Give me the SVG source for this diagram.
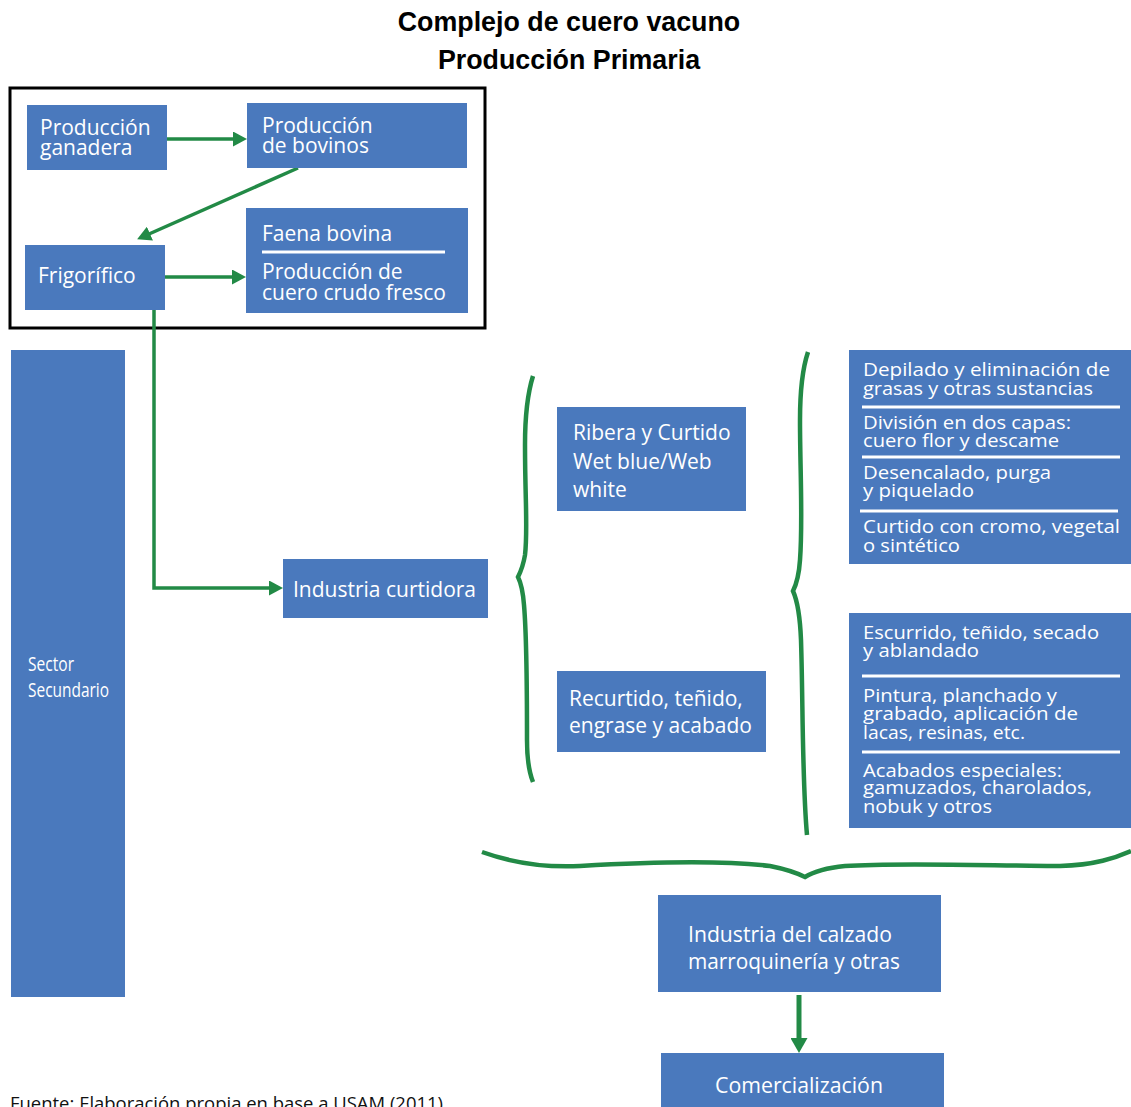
<svg xmlns="http://www.w3.org/2000/svg" width="1131" height="1107" viewBox="0 0 1131 1107">
<style>
.box{fill:#4a79bd}
.t{font-family:"Open Sans","Noto Sans","DejaVu Sans",sans-serif;font-size:21px;fill:#ffffff}
.s{font-family:"Open Sans","Noto Sans","DejaVu Sans",sans-serif;font-size:18.5px;fill:#ffffff}
.title{font-family:"Liberation Sans",Arial,sans-serif;font-size:26.8px;font-weight:bold;fill:#000000;text-anchor:middle}
.sep{stroke:#ffffff;stroke-width:3}
.conn{stroke:#228a46;stroke-width:3.5;fill:none}
.brace{stroke:#228a46;stroke-width:4.5;fill:none;stroke-linecap:butt}
</style>
<defs>
<marker id="ah" markerUnits="userSpaceOnUse" markerWidth="14" markerHeight="15" viewBox="0 0 14 15" refX="1" refY="7.5" orient="auto">
<path d="M0,0 L14,7.5 L0,15 z" fill="#228a46"/>
</marker>
<marker id="ahb" markerUnits="userSpaceOnUse" markerWidth="15" markerHeight="17" viewBox="0 0 15 17" refX="1" refY="8.5" orient="auto">
<path d="M0,0 L15,8.5 L0,17 z" fill="#228a46"/>
</marker>
</defs>
<rect width="1131" height="1107" fill="#ffffff"/>

<g id="title">
<text class="title" x="569" y="31">Complejo de cuero vacuno</text>
<text class="title" x="569" y="69">Producción Primaria</text>
</g>

<g id="primaria-frame">
<rect x="10" y="88" width="475" height="240" fill="none" stroke="#000000" stroke-width="3"/>
</g>

<g id="connectors">
<line class="conn" x1="167" y1="139" x2="234" y2="139" marker-end="url(#ah)"/>
<line class="conn" x1="298" y1="168" x2="149" y2="234" marker-end="url(#ah)"/>
<line class="conn" x1="165" y1="277" x2="233" y2="277" marker-end="url(#ah)"/>
<polyline class="conn" points="154,310 154,588 270,588" marker-end="url(#ah)"/>
<line class="conn" style="stroke-width:5" x1="799" y1="995" x2="799" y2="1039" marker-end="url(#ahb)"/>
</g>

<g id="braces">
<path class="brace" d="M533,376 C528,392 525,415 525,445 C525,500 528,530 525,555 C523,567 520,573 518,577 C521,583 523,592 524,605 C527,640 527,700 527,740 C527,760 529,772 533,782"/>
<path class="brace" d="M808,352 C802,370 800,390 800,420 C800,470 803,520 800,560 C799,575 796,585 793,591 C797,600 800,615 801,640 C803,700 802,780 807,835"/>
<path class="brace" d="M482,852 C510,862 540,868 580,866 C650,862 720,860 770,866 C785,869 797,873 805,877 C813,872 825,868 845,866 C900,862 1000,866 1060,866 C1095,865 1115,858 1131,851"/>
</g>

<g id="produccion-ganadera">
<rect class="box" x="27" y="105" width="140" height="65"/>
<text class="t" x="40" y="135">Producción</text>
<text class="t" x="40" y="155">ganadera</text>
</g>

<g id="produccion-bovinos">
<rect class="box" x="247" y="103" width="220" height="65"/>
<text class="t" x="262" y="133">Producción</text>
<text class="t" x="262" y="153">de bovinos</text>
</g>

<g id="frigorifico">
<rect class="box" x="25" y="245" width="140" height="65"/>
<text class="t" x="38" y="283">Frigorífico</text>
</g>

<g id="faena">
<rect class="box" x="246" y="208" width="222" height="105"/>
<text class="t" x="262" y="241">Faena bovina</text>
<line class="sep" x1="262" y1="252" x2="445" y2="252"/>
<text class="t" x="262" y="279">Producción de</text>
<text class="t" x="262" y="300">cuero crudo fresco</text>
</g>

<g id="sector-secundario">
<rect class="box" x="11" y="350" width="114" height="647"/>
<text class="t" style="font-size:20px" x="28" y="671" textLength="46" lengthAdjust="spacingAndGlyphs">Sector</text>
<text class="t" style="font-size:20px" x="28" y="697" textLength="81" lengthAdjust="spacingAndGlyphs">Secundario</text>
</g>

<g id="industria-curtidora">
<rect class="box" x="283" y="559" width="205" height="59"/>
<text class="t" x="293" y="597">Industria curtidora</text>
</g>

<g id="ribera">
<rect class="box" x="557" y="407" width="189" height="104"/>
<text class="t" x="573" y="440">Ribera y Curtido</text>
<text class="t" x="573" y="469">Wet blue/Web</text>
<text class="t" x="573" y="497">white</text>
</g>

<g id="recurtido">
<rect class="box" x="557" y="671" width="209" height="81"/>
<text class="t" x="569" y="706">Recurtido, teñido,</text>
<text class="t" x="569" y="733">engrase y acabado</text>
</g>

<g id="procesos-ribera">
<rect class="box" x="849" y="350" width="282" height="214"/>
<text class="s" x="863" y="376" textLength="247" lengthAdjust="spacingAndGlyphs">Depilado y eliminación de</text>
<text class="s" x="863" y="395" textLength="230" lengthAdjust="spacingAndGlyphs">grasas y otras sustancias</text>
<line class="sep" x1="862" y1="407" x2="1120" y2="407"/>
<text class="s" x="863" y="429" textLength="208" lengthAdjust="spacingAndGlyphs">División en dos capas:</text>
<text class="s" x="863" y="447" textLength="196" lengthAdjust="spacingAndGlyphs">cuero flor y descame</text>
<line class="sep" x1="862" y1="457" x2="1120" y2="457"/>
<text class="s" x="863" y="479" textLength="188" lengthAdjust="spacingAndGlyphs">Desencalado, purga</text>
<text class="s" x="863" y="497" textLength="111" lengthAdjust="spacingAndGlyphs">y piquelado</text>
<line class="sep" x1="860" y1="511" x2="1118" y2="511"/>
<text class="s" x="863" y="533" textLength="257" lengthAdjust="spacingAndGlyphs">Curtido con cromo, vegetal</text>
<text class="s" x="863" y="552" textLength="97" lengthAdjust="spacingAndGlyphs">o sintético</text>
</g>

<g id="procesos-acabado">
<rect class="box" x="849" y="613" width="282" height="215"/>
<text class="s" x="863" y="639" textLength="236" lengthAdjust="spacingAndGlyphs">Escurrido, teñido, secado</text>
<text class="s" x="863" y="657" textLength="116" lengthAdjust="spacingAndGlyphs">y ablandado</text>
<line class="sep" x1="862" y1="676" x2="1120" y2="676"/>
<text class="s" x="863" y="702" textLength="194" lengthAdjust="spacingAndGlyphs">Pintura, planchado y</text>
<text class="s" x="863" y="720" textLength="215" lengthAdjust="spacingAndGlyphs">grabado, aplicación de</text>
<text class="s" x="863" y="739" textLength="162" lengthAdjust="spacingAndGlyphs">lacas, resinas, etc.</text>
<line class="sep" x1="862" y1="752" x2="1120" y2="752"/>
<text class="s" x="863" y="777" textLength="199" lengthAdjust="spacingAndGlyphs">Acabados especiales:</text>
<text class="s" x="863" y="794" textLength="229" lengthAdjust="spacingAndGlyphs">gamuzados, charolados,</text>
<text class="s" x="863" y="813" textLength="129" lengthAdjust="spacingAndGlyphs">nobuk y otros</text>
</g>

<g id="industria-calzado">
<rect class="box" x="658" y="895" width="283" height="97"/>
<text class="t" x="688" y="942" textLength="204" lengthAdjust="spacingAndGlyphs">Industria del calzado</text>
<text class="t" x="688" y="969" textLength="212" lengthAdjust="spacingAndGlyphs">marroquinería y otras</text>
</g>

<g id="comercializacion">
<rect class="box" x="661" y="1053" width="283" height="60"/>
<text class="t" style="font-size:22px" x="715" y="1093" textLength="168" lengthAdjust="spacingAndGlyphs">Comercialización</text>
</g>

<g id="fuente">
<text x="10" y="1110" font-family="'Open Sans','Noto Sans',sans-serif" font-size="18" fill="#111111" textLength="433" lengthAdjust="spacingAndGlyphs">Fuente: Elaboración propia en base a USAM (2011)</text>
</g>
</svg>
